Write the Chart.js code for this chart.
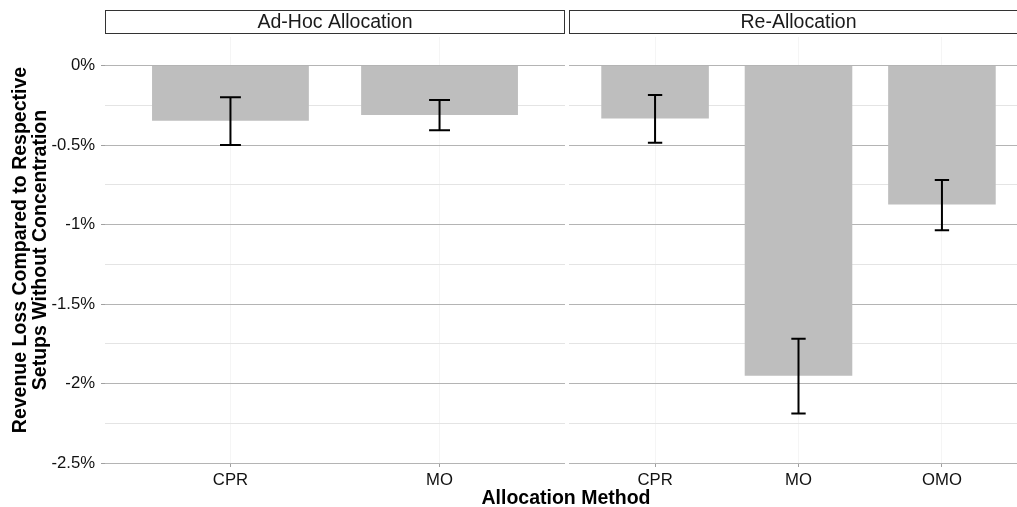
<!DOCTYPE html>
<html lang="en">
<head>
    <meta charset="UTF-8">
    <title>Revenue Loss by Allocation Method</title>
    <script src="https://cdn.jsdelivr.net/npm/chart.js@4/dist/chart.umd.min.js"></script>
    <style>
        body { margin: 0; background: #fff; }
        .wrap { position: relative; width: 1017px; height: 507px; overflow: hidden; font-family: "Liberation Sans", Arial, sans-serif; }
        .panel { position: absolute; top: 0; height: 507px; }
        #leftBox { left: 0; width: 567px; }
        #rightBox { left: 569px; width: 461px; }
        .xtitle { position: absolute; left: 466px; width: 200px; top: 486px; text-align: center; font-weight: bold; font-size: 19.5px; color: #000; }
        .ytitle { position: absolute; left: 29px; top: 250px; width: 420px; transform: translate(-50%, -50%) rotate(-90deg);
                  text-align: center; font-weight: bold; font-size: 19.5px; line-height: 20px; color: #000; }
    </style>
</head>
<body>
<div class="wrap">
    <div class="panel" id="leftBox"><canvas id="adHocChart"></canvas></div>
    <div class="panel" id="rightBox"><canvas id="reAllocChart"></canvas></div>
    <div class="ytitle">Revenue Loss Compared to Respective<br>Setups Without Concentration</div>
    <div class="xtitle">Allocation Method</div>
</div>

<script>
    // data (revenue loss in %)
    const adHocCategories = ['CPR', 'MO'];
    const adHocValues = [-0.347, -0.311];
    const adHocErrLow = [-0.500, -0.406];
    const adHocErrHigh = [-0.199, -0.217];

    const reAllocCategories = ['CPR', 'MO', 'OMO'];
    const reAllocValues = [-0.332, -1.951, -0.873];
    const reAllocErrLow = [-0.485, -2.188, -1.035];
    const reAllocErrHigh = [-0.185, -1.718, -0.720];

    const yMajorTicks = [0, -0.5, -1, -1.5, -2, -2.5];
    const yTickLabels = ['0%', '-0.5%', '-1%', '-1.5%', '-2%', '-2.5%'];
    const yMinorTicks = [-0.25, -0.75, -1.25, -1.75, -2.25];

    const FONT = '"Liberation Sans", Arial, sans-serif';
    const BAR = '#bebebe';

    // facet strip on top of the panel
    const stripPlugin = {
        id: 'strip',
        afterDraw(chart, args, opts) {
            const { ctx, chartArea } = chart;
            ctx.save();
            ctx.fillStyle = '#fff';
            ctx.strokeStyle = '#333';
            ctx.lineWidth = 1;
            ctx.fillRect(chartArea.left, 10, chartArea.width, 23);
            ctx.strokeRect(chartArea.left + 0.5, 10.5, chartArea.width - 1, 23);
            ctx.fillStyle = '#1a1a1a';
            ctx.font = '19.5px ' + FONT;
            ctx.textAlign = 'center';
            ctx.textBaseline = 'middle';
            ctx.fillText(opts.text, (chartArea.left + chartArea.right) / 2, 22.5);
            ctx.restore();
        }
    };

    // error bars
    const errorBarPlugin = {
        id: 'errBars',
        afterDatasetsDraw(chart, args, opts) {
            const { ctx } = chart;
            const xs = chart.scales.x, ys = chart.scales.y;
            ctx.save();
            ctx.strokeStyle = '#000';
            ctx.lineWidth = 2;
            opts.low.forEach((lo, i) => {
                const xv = i + 1;
                const x = xs.getPixelForValue(xv);
                const half = (xs.getPixelForValue(xv + 0.05) - xs.getPixelForValue(xv - 0.05)) / 2;
                const y1 = ys.getPixelForValue(opts.high[i]);
                const y2 = ys.getPixelForValue(lo);
                ctx.beginPath();
                ctx.moveTo(x, y1); ctx.lineTo(x, y2);
                ctx.moveTo(x - half, y1); ctx.lineTo(x + half, y1);
                ctx.moveTo(x - half, y2); ctx.lineTo(x + half, y2);
                ctx.stroke();
            });
            ctx.restore();
        }
    };

    function makePanel(canvasId, title, categories, values, errLow, errHigh, showY) {
        return new Chart(document.getElementById(canvasId), {
            type: 'bar',
            data: {
                datasets: [{
                    data: values.map((v, i) => ({ x: i + 1, y: v })),
                    backgroundColor: BAR,
                    borderWidth: 0,
                    barPercentage: 0.75,
                    categoryPercentage: 1
                }]
            },
            plugins: [stripPlugin, errorBarPlugin],
            options: {
                responsive: true,
                maintainAspectRatio: false,
                animation: false,
                layout: { padding: { top: 37, right: 2, left: 0, bottom: 0 } },
                plugins: {
                    legend: { display: false },
                    tooltip: { enabled: false },
                    strip: { text: title },
                    errBars: { low: errLow, high: errHigh }
                },
                scales: {
                    x: {
                        type: 'linear',
                        offset: false,
                        min: 0.4,
                        max: categories.length + 0.6,
                        afterBuildTicks: s => { s.ticks = categories.map((c, i) => ({ value: i + 1 })); },
                        afterFit: s => { s.height = 44; },
                        border: { display: false },
                        grid: { offset: false, color: '#f5f5f5', tickColor: '#a0a0a0', tickLength: 4 },
                        ticks: {
                            padding: 3,
                            color: '#111',
                            font: { family: FONT, size: 16.7 },
                            maxRotation: 0,
                            callback: v => categories[v - 1]
                        }
                    },
                    y: {
                        min: -2.5,
                        max: 0.18,
                        afterBuildTicks: s => {
                            s.ticks = yMajorTicks.concat(yMinorTicks).map(v => ({ value: v }));
                        },
                        afterFit: s => { s.width = showY ? 105 : 0; },
                        border: { display: false },
                        grid: {
                            color: c => yMajorTicks.includes(c.tick.value) ? '#b4b4b4' : '#e4e4e4',
                            tickColor: c => (showY && yMajorTicks.includes(c.tick.value)) ? '#a0a0a0' : 'rgba(0,0,0,0)',
                            tickLength: 4
                        },
                        ticks: {
                            display: showY,
                            padding: 6,
                            color: '#111',
                            font: { family: FONT, size: 16.7 },
                            callback: v => {
                                const k = yMajorTicks.indexOf(v);
                                return k >= 0 ? yTickLabels[k] : '';
                            }
                        }
                    }
                }
            }
        });
    }

    makePanel('adHocChart', 'Ad-Hoc Allocation', adHocCategories, adHocValues, adHocErrLow, adHocErrHigh, true);
    makePanel('reAllocChart', 'Re-Allocation', reAllocCategories, reAllocValues, reAllocErrLow, reAllocErrHigh, false);
</script>
</body>
</html>
